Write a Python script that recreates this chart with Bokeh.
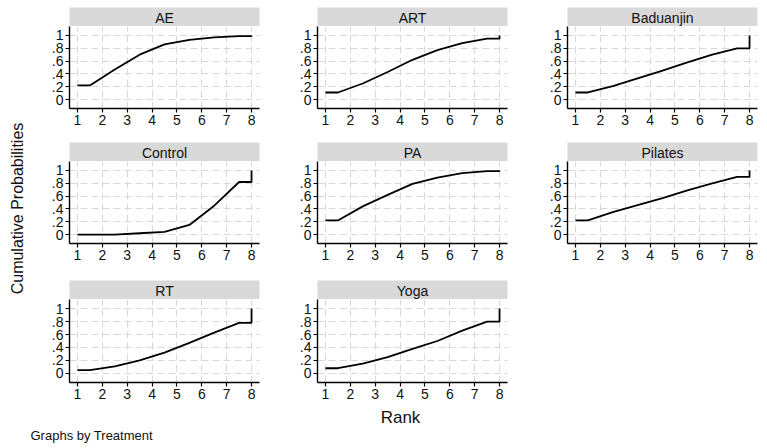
import math
from bokeh.plotting import figure
from bokeh.layouts import column, row
from bokeh.models import Range1d, FixedTicker
from bokeh.core.properties import value
from bokeh.embed import file_html
from bokeh.resources import INLINE

# ---- data (cumulative probability of being at rank <= r) ----
ranks = [1, 2, 3, 4, 5, 6, 7, 8]
treatments = ["AE", "ART", "Baduanjin", "Control", "PA", "Pilates", "RT", "Yoga"]
ae = [0.22, 0.47, 0.70, 0.86, 0.93, 0.97, 0.99, 1.00]
art = [0.11, 0.25, 0.43, 0.62, 0.77, 0.88, 0.95, 1.00]
baduanjin = [0.11, 0.21, 0.33, 0.45, 0.58, 0.70, 0.80, 1.00]
control = [0.00, 0.00, 0.02, 0.04, 0.15, 0.45, 0.82, 1.00]
pa = [0.22, 0.44, 0.62, 0.79, 0.89, 0.96, 0.99, 1.00]
pilates = [0.22, 0.35, 0.46, 0.57, 0.69, 0.80, 0.90, 1.00]
rt = [0.05, 0.11, 0.20, 0.32, 0.47, 0.63, 0.78, 1.00]
yoga = [0.08, 0.15, 0.25, 0.38, 0.50, 0.66, 0.80, 1.00]
series = [ae, art, baduanjin, control, pa, pilates, rt, yoga]

y_ticks = [0, 0.2, 0.4, 0.6, 0.8, 1.0]
y_tick_labels = ["0", ".2", ".4", ".6", ".8", "1"]
x_title = "Rank"
y_title = "Cumulative Probabilities"
note = "Graphs by Treatment"

FONT = value("Liberation Sans")
FRAME_W = 190
STRIP_H = 19
col_borders = [(38, 22), (36, 24), (36, 10)]
row_specs = [(7, 82, 34), (0, 82, 37), (0, 83, 24)]


def step_path(cum):
    # Stata-style cumulative ranking curve
    xs = [ranks[0]] + [r + 0.5 for r in ranks[:-1]] + [ranks[-1], ranks[-1]]
    ys = [cum[0]] + list(cum[:-1]) + [cum[-2], cum[-1]]
    return xs, ys


def panel(name, cum, left, right, top_pad, frame_h, bottom):
    W = left + FRAME_W + right
    strip = figure(width=W, height=top_pad + STRIP_H,
                   x_range=Range1d(0, 1), y_range=Range1d(0, 1),
                   x_axis_type=None, y_axis_type=None,
                   toolbar_location=None, output_backend="svg",
                   min_border_left=left, min_border_right=right,
                   min_border_top=top_pad, min_border_bottom=0,
                   background_fill_color="#d9d9d9", border_fill_color="white",
                   outline_line_color=None)
    strip.grid.visible = False
    strip.text(x=[0.5], y=[0.45], text=[name], text_align="center",
               text_baseline="middle", text_font=FONT,
               text_font_size="14px", text_color="#111111")

    p = figure(width=W, height=frame_h + bottom,
               x_range=Range1d(0.68, 8.32), y_range=Range1d(-0.14, 1.14),
               toolbar_location=None, output_backend="svg",
               min_border_left=left, min_border_right=right,
               min_border_top=0, min_border_bottom=bottom,
               outline_line_color=None, background_fill_color="white",
               border_fill_color="white")
    xs, ys = step_path(cum)
    p.line(xs, ys, line_color="black", line_width=1.8)

    p.xaxis.ticker = FixedTicker(ticks=ranks)
    p.yaxis.ticker = FixedTicker(ticks=y_ticks)
    p.yaxis.major_label_overrides = {t: l for t, l in zip(y_ticks, y_tick_labels)}
    for ax in (p.xaxis[0], p.yaxis[0]):
        ax.axis_line_color = "black"
        ax.axis_line_width = 1.4
        ax.major_tick_line_color = "black"
        ax.major_tick_line_width = 1.2
        ax.major_tick_out = 4
        ax.major_tick_in = 0
        ax.minor_tick_line_color = None
        ax.major_label_text_font = "Liberation Sans"
        ax.major_label_text_font_size = "14px"
        ax.major_label_text_color = "#111111"
    p.xaxis.major_label_standoff = 2
    p.yaxis.major_label_standoff = 2
    p.yaxis.major_label_orientation = "horizontal"
    for g in (p.xgrid[0], p.ygrid[0]):
        g.grid_line_color = "#d8d8d8"
        g.grid_line_dash = "7 4"
        g.grid_line_width = 1
    p.xgrid.ticker = FixedTicker(ticks=ranks)
    p.ygrid.ticker = FixedTicker(ticks=y_ticks)
    return column(strip, p, spacing=0)


rows = []
for ri, (top_pad, frame_h, bottom) in enumerate(row_specs):
    items = []
    for ci in range(3):
        k = ri * 3 + ci
        if k >= len(treatments):
            break
        left, right = col_borders[ci]
        items.append(panel(treatments[k], series[k], left, right, top_pad, frame_h, bottom))
    rows.append(row(*items, spacing=0))
grid = column(*rows, spacing=0)

GRID_H = sum(t + STRIP_H + f + b for t, f, b in row_specs)

left_fig = figure(width=31, height=GRID_H, x_range=Range1d(0, 31),
                  y_range=Range1d(0, GRID_H), x_axis_type=None, y_axis_type=None,
                  toolbar_location=None, output_backend="svg", min_border=0,
                  outline_line_color=None)
left_fig.grid.visible = False
left_fig.text(x=[17], y=[GRID_H - 208], text=[y_title], angle=math.pi / 2,
              text_align="center", text_baseline="middle", text_font=FONT,
              text_font_size="16px", text_color="#111111")

BOT_H = 448 - GRID_H
bottom_fig = figure(width=767, height=BOT_H, x_range=Range1d(0, 767),
                    y_range=Range1d(0, BOT_H), x_axis_type=None, y_axis_type=None,
                    toolbar_location=None, output_backend="svg", min_border=0,
                    outline_line_color=None)
bottom_fig.grid.visible = False
bottom_fig.text(x=[400], y=[BOT_H - 11], text=[x_title], text_align="center",
                text_baseline="middle", text_font=FONT, text_font_size="17px",
                text_color="#111111")
bottom_fig.text(x=[30], y=[BOT_H - 29], text=[note], text_align="left",
                text_baseline="middle", text_font=FONT, text_font_size="13px",
                text_color="#111111")

layout = column(row(left_fig, grid, spacing=0), bottom_fig, spacing=0)

open("out.html", "w").write(file_html(layout, INLINE))
